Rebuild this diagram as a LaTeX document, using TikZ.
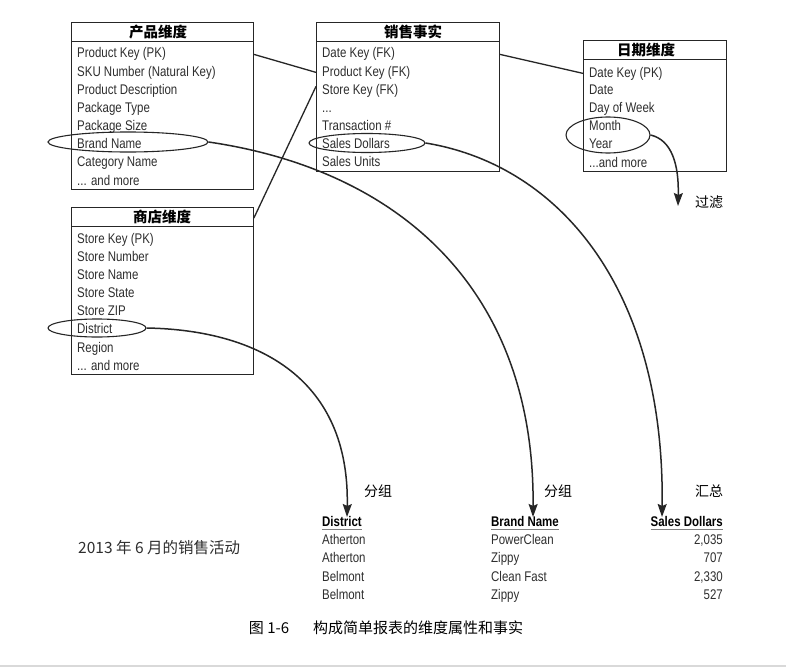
\documentclass[tikz,border=0pt]{standalone}
\usepackage{fontspec}
\setmainfont{Liberation Sans}[FakeStretch=0.82]
\newfontfamily\cjk{Noto Sans CJK SC}
\usetikzlibrary{arrows.meta,shapes.geometric}
\definecolor{ink}{HTML}{262626}
\definecolor{txt}{HTML}{2E2E2E}
\tikzset{
  tbl/.style={draw=ink, line width=0.9pt, rectangle, inner sep=0pt, anchor=north west},
  rowtext/.style={anchor=base west, inner sep=0pt, text=txt, font=\fontsize{14}{16}\selectfont},
  ttl/.style={anchor=center, inner sep=0pt, text=black, font=\cjk\bfseries\fontsize{14.5}{16}\selectfont},
  ell/.style={draw=ink, ellipse, line width=1.1pt, inner sep=0pt},
  link/.style={draw=ink, line width=1.3pt},
  arr/.style={draw=ink, line width=1.5pt, -{Stealth[length=13pt,width=9pt,inset=2pt]}},
  lbl/.style={anchor=center, inner sep=0pt, text=black, font=\cjk\fontsize{14}{16}\selectfont},
  hdr/.style={inner sep=0pt, text=black, font=\bfseries\fontsize{14}{16}\selectfont},
  dat/.style={inner sep=0pt, text=txt, font=\fontsize{14}{16}\selectfont},
}
\begin{document}
\begin{tikzpicture}[x=1pt,y=-1pt]
\useasboundingbox (0,0) rectangle (786,669);
\fill[white] (0,0) rectangle (786,669);

% ---------- Product dimension ----------
\node[tbl, minimum width=182pt, minimum height=167pt] (prod) at (71,22) {};
\draw[ink, line width=0.9pt] (71,41) -- (253,41);
\node[ttl] (prodt) at (158,32) {产品维度};
\node[rowtext] (p1) at (77,58) {Product Key (PK)};
\node[rowtext] (p2) at (77,76) {SKU Number (Natural Key)};
\node[rowtext] (p3) at (77,94) {Product Description};
\node[rowtext] (p4) at (77,112) {Package Type};
\node[rowtext] (p5) at (77,130) {Package Size};
\node[rowtext] (p6) at (77,148) {Brand Name};
\node[rowtext] (p7) at (77,166) {Category Name};
\node[rowtext] (p8) at (77,185) {... and more};

% ---------- Sales fact ----------
\node[tbl, minimum width=183pt, minimum height=149pt] (sales) at (316,22) {};
\draw[ink, line width=0.9pt] (316,41) -- (499,41);
\node[ttl] (salest) at (413,32) {销售事实};
\node[rowtext] (s1) at (322,58) {Date Key (FK)};
\node[rowtext] (s2) at (322,76) {Product Key (FK)};
\node[rowtext] (s3) at (322,94) {Store Key (FK)};
\node[rowtext] (s4) at (322,112) {...};
\node[rowtext] (s5) at (322,130) {Transaction \#};
\node[rowtext] (s6) at (322,148) {Sales Dollars};
\node[rowtext] (s7) at (322,166) {Sales Units};

% ---------- Date dimension ----------
\node[tbl, minimum width=143pt, minimum height=131pt] (date) at (583,40) {};
\draw[ink, line width=0.9pt] (583,59) -- (726,59);
\node[ttl] (datet) at (646,50) {日期维度};
\node[rowtext] (d1) at (589,77) {Date Key (PK)};
\node[rowtext] (d2) at (589,94) {Date};
\node[rowtext] (d3) at (589,112) {Day of Week};
\node[rowtext] (d4) at (589,130) {Month};
\node[rowtext] (d5) at (589,148) {Year};
\node[rowtext] (d6) at (589,167) {...and more};

% ---------- Store dimension ----------
\node[tbl, minimum width=182pt, minimum height=167pt] (store) at (71,207) {};
\draw[ink, line width=0.9pt] (71,226) -- (253,226);
\node[ttl] (storet) at (162,217) {商店维度};
\node[rowtext] (t1) at (77,243) {Store Key (PK)};
\node[rowtext] (t2) at (77,261) {Store Number};
\node[rowtext] (t3) at (77,279) {Store Name};
\node[rowtext] (t4) at (77,297) {Store State};
\node[rowtext] (t5) at (77,315) {Store ZIP};
\node[rowtext] (t6) at (77,333) {District};
\node[rowtext] (t7) at (77,352) {Region};
\node[rowtext] (t8) at (77,370) {... and more};

% ---------- joins ----------
\draw[link] (prod.east |- p1) -- (sales.west |- s2);
\draw[link] ([yshift=-11pt]store.north east) -- ([yshift=4pt]sales.west |- s3);
\draw[link] (sales.east |- s1) -- (date.west |- d1);

% ---------- ellipses ----------
\node[ell, minimum width=160pt, minimum height=20pt] (eb) at (128,142) {};
\node[ell, minimum width=116pt, minimum height=19pt] (es) at (367,143) {};
\node[ell, minimum width=84pt, minimum height=36pt] (em) at (608,135) {};
\node[ell, minimum width=98pt, minimum height=18pt] (ed) at (97,328) {};

% ---------- bottom labels ----------
\node[lbl] (g1) at (378,491) {分组};
\node[lbl] (g2) at (558,491) {分组};
\node[lbl] (g3) at (709,491) {汇总};
\node[lbl] (flt) at (709,202) {过滤};

\coordinate (tipD) at (347,517);
\coordinate (tipB) at (533,517);
\coordinate (tipS) at (662,517);
\coordinate (tipF) at (678,206);

\draw[arr] (eb.east) .. controls (400,170) and (535,290) .. (tipB);
\draw[arr] (es.east) .. controls (560,165) and (665,290) .. (tipS);
\draw[arr] (ed.east) .. controls (260,330) and (350,380) .. (tipD);
\draw[arr] (em.east) .. controls (672,140) and (679,165) .. (tipF);

% ---------- result table ----------
\node[hdr, anchor=base west] (hD) at (322,526) {District};
\node[hdr, anchor=base west] (hB) at (491,526) {Brand Name};
\node[hdr, anchor=base east] (hS) at (723,526) {Sales Dollars};
\foreach \n in {hD,hB,hS}
  \draw[gray, line width=1.1pt] ([yshift=-3.5pt]\n.base west) -- ([yshift=-3.5pt]\n.base east);

\node[dat, anchor=base west] (r1a) at (322,544) {Atherton};
\node[dat, anchor=base west] (r2a) at (322,562) {Atherton};
\node[dat, anchor=base west] (r3a) at (322,581) {Belmont};
\node[dat, anchor=base west] (r4a) at (322,599) {Belmont};
\node[dat, anchor=base west] (r1b) at (491,544) {PowerClean};
\node[dat, anchor=base west] (r2b) at (491,562) {Zippy};
\node[dat, anchor=base west] (r3b) at (491,581) {Clean Fast};
\node[dat, anchor=base west] (r4b) at (491,599) {Zippy};
\node[dat, anchor=base east] (r1c) at (723,544) {2,035};
\node[dat, anchor=base east] (r2c) at (723,562) {707};
\node[dat, anchor=base east] (r3c) at (723,581) {2,330};
\node[dat, anchor=base east] (r4c) at (723,599) {527};

\node[anchor=west, inner sep=0pt, text=txt, font=\cjk\fontsize{15.5}{17}\selectfont] (period) at (78,548) {2013 年 6 月的销售活动};

% ---------- caption ----------
\node[anchor=center, inner sep=0pt, text=black, font=\cjk\fontsize{15}{17}\selectfont] (cap) at (386,628) {图 1-6\hspace{1.6em}构成简单报表的维度属性和事实};
\draw[black!15, line width=1.5pt] (0,666) -- (786,666);
\end{tikzpicture}
\end{document}
